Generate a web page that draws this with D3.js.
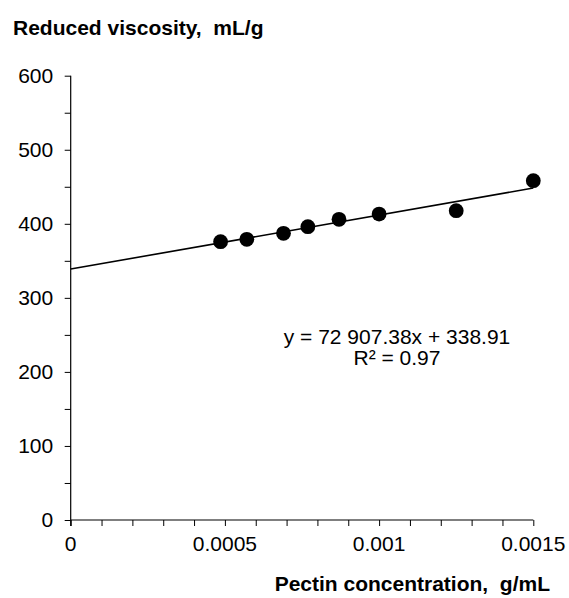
<!DOCTYPE html>
<html>
<head>
<meta charset="utf-8">
<script src="https://cdn.jsdelivr.net/npm/d3@7"></script>
<style>
  html, body { margin: 0; padding: 0; background: #fff; }
  svg { display: block; font-family: "Liberation Sans", Arial, sans-serif; }
</style>
</head>
<body>
<svg id="chart" width="569" height="598"></svg>
<script>
// Pectin concentration (g/mL) and measured reduced viscosity (mL/g)
const concentration = [0.000486, 0.000571, 0.000690, 0.000769, 0.000870, 0.001000, 0.001250, 0.001500];
const reducedViscosity = [375.8, 379.1, 387.2, 396.1, 406.1, 413.2, 417.7, 458.2];

// Linear fit reported for the series
const fitSlope = 72907.38;
const fitIntercept = 338.91;
const fitR2 = 0.97;

const xTickLabels = [0, 0.0005, 0.001, 0.0015];
const yTickLabels = [0, 100, 200, 300, 400, 500, 600];
const xMinorTicks = d3.range(0, 16).map(i => i / 10000);
const yMinorTicks = d3.range(0, 13).map(i => i * 50);

const svg = d3.select("#chart");
const plotLeft = 70.7, plotRight = 533.3, plotTop = 75.7, plotBottom = 520;

const x = d3.scaleLinear().domain([0, 0.0015]).range([plotLeft, plotRight]);
const y = d3.scaleLinear().domain([0, 600]).range([plotBottom, plotTop]);

const fontSize = 21;

// Tick marks, no labels
svg.append("g")
  .attr("transform", `translate(0,${plotBottom})`)
  .call(d3.axisBottom(x).tickValues(xMinorTicks).tickSize(6).tickFormat(""))
  .call(g => g.select(".domain").remove())
  .call(g => g.selectAll("line").attr("stroke", "#000").attr("stroke-width", 1));

svg.append("g")
  .attr("transform", `translate(${plotLeft},0)`)
  .call(d3.axisLeft(y).tickValues(yMinorTicks).tickSize(6).tickFormat(""))
  .call(g => g.select(".domain").remove())
  .call(g => g.selectAll("line").attr("stroke", "#000").attr("stroke-width", 1));

// Axis lines
svg.append("line").attr("x1", x(0)).attr("x2", x(0.0015)).attr("y1", y(0)).attr("y2", y(0))
  .attr("stroke", "#000").attr("stroke-width", 1.2);
svg.append("line").attr("x1", x(0)).attr("x2", x(0)).attr("y1", y(0) + 6).attr("y2", y(600))
  .attr("stroke", "#000").attr("stroke-width", 1.2);

// Tick labels
svg.append("g").selectAll("text").data(xTickLabels).join("text")
  .attr("x", d => x(d)).attr("y", plotBottom + 31)
  .attr("text-anchor", "middle").attr("font-size", fontSize).attr("fill", "#000")
  .text(d => d === 0 ? "0" : String(d));

svg.append("g").selectAll("text").data(yTickLabels).join("text")
  .attr("x", plotLeft - 17.5).attr("y", d => y(d)).attr("dy", "0.35em")
  .attr("text-anchor", "end").attr("font-size", fontSize).attr("fill", "#000")
  .text(d => d);

// Trend line across the full x range
svg.append("line")
  .attr("x1", x(0)).attr("y1", y(fitIntercept))
  .attr("x2", x(0.0015)).attr("y2", y(fitSlope * 0.0015 + fitIntercept))
  .attr("stroke", "#000").attr("stroke-width", 1.6);

// Data points
svg.append("g").selectAll("circle").data(concentration).join("circle")
  .attr("cx", d => x(d)).attr("cy", (d, i) => y(reducedViscosity[i]))
  .attr("r", 7.4).attr("fill", "#000");

// Fit equation
const fmtSlope = d3.format(",.2f")(fitSlope).replace(/,/g, " ");
svg.append("text").attr("x", 397).attr("y", 344)
  .attr("text-anchor", "middle").attr("font-size", fontSize).attr("fill", "#000")
  .text(`y = ${fmtSlope}x + ${fitIntercept.toFixed(2)}`);
svg.append("text").attr("x", 397).attr("y", 365)
  .attr("text-anchor", "middle").attr("font-size", fontSize).attr("fill", "#000")
  .text(`R² = ${fitR2.toFixed(2)}`);

// Axis titles
svg.append("text").attr("x", 13).attr("y", 35)
  .attr("font-size", fontSize).attr("font-weight", "bold").attr("fill", "#000")
  .attr("xml:space", "preserve").style("white-space", "pre")
  .text("Reduced viscosity,  mL/g");
svg.append("text").attr("x", 550).attr("y", 591)
  .attr("text-anchor", "end")
  .attr("font-size", fontSize).attr("font-weight", "bold").attr("fill", "#000")
  .attr("xml:space", "preserve").style("white-space", "pre")
  .text("Pectin concentration,  g/mL");
</script>
</body>
</html>
